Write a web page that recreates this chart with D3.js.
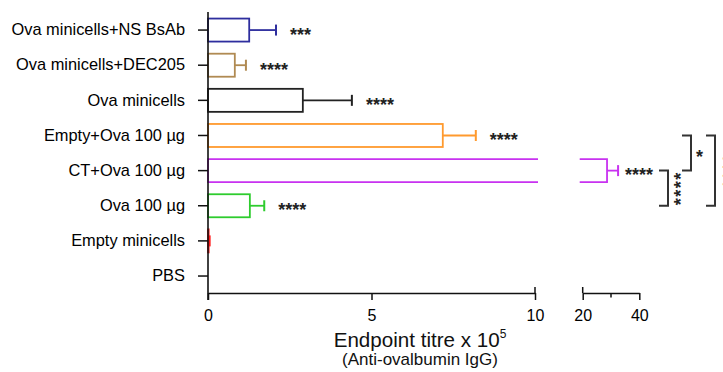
<!DOCTYPE html>
<html>
<head>
<meta charset="utf-8">
<script src="https://cdn.jsdelivr.net/npm/d3@7"></script>
<style>
  html, body { margin: 0; padding: 0; background: #fff; }
  svg { display: block; font-family: "Liberation Sans", Arial, sans-serif; }
</style>
</head>
<body>
<svg id="chart" width="723" height="372"></svg>
<script>
// Treatment groups, top to bottom
const groups = [
  "Ova minicells+NS BsAb",
  "Ova minicells+DEC205",
  "Ova minicells",
  "Empty+Ova 100 µg",
  "CT+Ova 100 µg",
  "Ova 100 µg",
  "Empty minicells",
  "PBS"
];
// Mean endpoint titre (x 10^5) and upper error (SEM)
const means  = [1.26, 0.82, 2.90, 7.18, 28.6, 1.28, 0.02, 0];
const errors = [0.82, 0.34, 1.50, 1.01, 3.9, 0.44, 0.03, 0];
const colors = ["#2e2e9e", "#b08a52", "#222222", "#ff9a2e", "#c832f0", "#2ecc2e", "#ff1a1a", "#000000"];
const stars  = ["***", "****", "****", "****", "****", "****", "", ""];

// Broken x axis: two linear segments
const lowDomain  = [0, 10];
const highDomain = [20, 40];
const lowTicks   = [0, 5, 10];
const highTicks  = [20, 40];
const highMinor  = [30];

// Pairwise comparisons drawn as brackets on the right
const comparisons = [
  { a: "CT+Ova 100 µg",    b: "Ova 100 µg",    label: "****" },
  { a: "Empty+Ova 100 µg", b: "CT+Ova 100 µg", label: "*" },
  { a: "Empty+Ova 100 µg", b: "Ova 100 µg",    label: "****" }
];

const data = groups.map((g, i) => ({ group: g, mean: means[i], err: errors[i], color: colors[i], stars: stars[i] }));

const svg = d3.select("#chart");
const x0 = 208, axisY = 293;

const y = d3.scaleBand().domain(groups).range([12.5, 293.6]).paddingInner(0.345).paddingOuter(0.1725);
const xLow  = d3.scaleLinear().domain(lowDomain).range([x0, 535]);
const xHigh = d3.scaleLinear().domain(highDomain).range([582.7, 639.3]);
const xPos = v => v <= lowDomain[1] ? xLow(v) : xHigh(v);
const cy = g => y(g) + y.bandwidth() / 2;

// Bars
const bars = svg.append("g").attr("fill", "none").attr("stroke-width", 1.8);
data.filter(d => d.mean > 0).forEach(d => {
  const top = y(d.group), h = y.bandwidth();
  if (d.mean <= lowDomain[1]) {
    bars.append("rect")
      .attr("x", x0).attr("y", top)
      .attr("width", xLow(d.mean) - x0).attr("height", h)
      .attr("stroke", d.color);
  } else {
    // bar continues across the axis break
    const cutL = xLow(lowDomain[1]) + 3, cutR = xHigh(highDomain[0]) - 3;
    bars.append("path")
      .attr("d", `M${cutL},${top}H${x0}V${top + h}H${cutL}`)
      .attr("stroke", d.color);
    bars.append("path")
      .attr("d", `M${cutR},${top}H${xHigh(d.mean)}V${top + h}H${cutR}`)
      .attr("stroke", d.color);
  }
  // error bar
  const xe = xPos(d.mean + d.err), c = cy(d.group);
  bars.append("line").attr("x1", xPos(d.mean)).attr("x2", xe).attr("y1", c).attr("y2", c).attr("stroke", d.color);
  bars.append("line").attr("x1", xe).attr("x2", xe).attr("y1", c - 5.5).attr("y2", c + 5.5).attr("stroke", d.color).attr("stroke-width", 2);
  // significance stars
  if (d.stars) {
    const gap = d.mean > lowDomain[1] ? 7 : 14;
    svg.append("text")
      .attr("x", xe + gap).attr("y", c + 10.5)
      .attr("font-size", 18).attr("font-weight", "bold").attr("fill", "#222")
      .text(d.stars);
  }
});

// Y axis
const yAxis = svg.append("g").attr("transform", `translate(${x0},0)`)
  .call(d3.axisLeft(y).tickSize(10).tickPadding(13));
yAxis.select(".domain").remove();
yAxis.selectAll("line").attr("stroke", "#111").attr("stroke-width", 1.5);
yAxis.selectAll("text").attr("font-size", 16.4).attr("fill", "#000")
  .attr("font-family", "'Liberation Sans', Arial, sans-serif");
svg.append("line").attr("x1", x0).attr("x2", x0).attr("y1", 12).attr("y2", 300)
  .attr("stroke", "#111").attr("stroke-width", 1.6);

// X axis, low segment
const xa1 = svg.append("g").attr("transform", `translate(0,${axisY})`)
  .call(d3.axisBottom(xLow).tickValues(lowTicks).tickSize(7).tickSizeOuter(0).tickPadding(10));
// X axis, high segment
const xa2 = svg.append("g").attr("transform", `translate(0,${axisY})`)
  .call(d3.axisBottom(xHigh).tickValues(highTicks).tickSize(7).tickSizeOuter(0).tickPadding(10));
xa2.selectAll(".minor").data(highMinor).enter().append("line")
  .attr("x1", d => xHigh(d)).attr("x2", d => xHigh(d)).attr("y1", 0).attr("y2", 4.5);
// break marks at the segment ends
[xLow(lowDomain[1]), xHigh(highDomain[0])].forEach(bx => {
  xa2.append("line").attr("x1", bx).attr("x2", bx).attr("y1", -6).attr("y2", 0);
});
[xa1, xa2].forEach(g => {
  g.selectAll("path, line").attr("stroke", "#111").attr("stroke-width", 1.5);
  g.selectAll("text").attr("font-size", 16).attr("fill", "#000")
    .attr("font-family", "'Liberation Sans', Arial, sans-serif");
});

// Axis title
const title = svg.append("text").attr("x", 420).attr("y", 347)
  .attr("text-anchor", "middle").attr("font-size", 20.6).attr("fill", "#111");
title.append("tspan").text("Endpoint titre x 10");
title.append("tspan").attr("font-size", 12).attr("dy", -9).text("5");
svg.append("text").attr("x", 420).attr("y", 365)
  .attr("text-anchor", "middle").attr("font-size", 17).attr("fill", "#111")
  .text("(Anti-ovalbumin IgG)");

// Comparison brackets
const bracketX = [668, 691, 715];
const br = svg.append("g").attr("fill", "none").attr("stroke", "#333").attr("stroke-width", 2);
comparisons.forEach((cmp, i) => {
  const y1 = cy(cmp.a), y2 = cy(cmp.b), bx = bracketX[i];
  br.append("path").attr("d", `M${bx - 9},${y1}H${bx}V${y2}H${bx - 9}`);
  const mid = (y1 + y2) / 2;
  if (cmp.label.length > 1) {
    svg.append("text")
      .attr("transform", `translate(${bx + (i === 2 ? 21 : 19)},${mid}) rotate(-90)`)
      .attr("text-anchor", "middle").attr("font-size", 18).attr("font-weight", "bold")
      .attr("letter-spacing", 1.5).attr("fill", "#222")
      .text(cmp.label);
  } else {
    svg.append("text")
      .attr("x", bx + 5).attr("y", mid + 10)
      .attr("font-size", 18).attr("font-weight", "bold").attr("fill", "#222")
      .text(cmp.label);
  }
});
</script>
</body>
</html>
